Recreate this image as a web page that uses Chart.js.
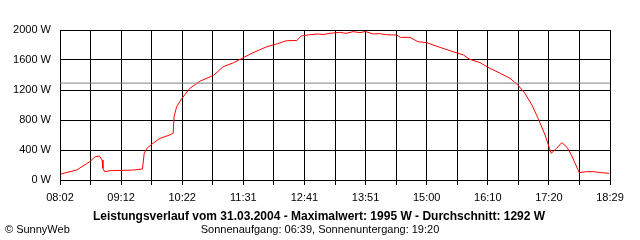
<!DOCTYPE html>
<html>
<head>
<meta charset="utf-8">
<script src="https://cdn.jsdelivr.net/npm/chart.js@4/dist/chart.umd.min.js"></script>
<style>
  body { margin: 0; background: #fff; }
  #wrap { width: 640px; height: 240px; }
</style>
</head>
<body>
<div id="wrap"><canvas id="powerChart" width="640" height="240"></canvas></div>
<script>
// Readings of the day (clock time, watts)
const times = ['08:03','08:21','08:36','08:42','08:47','08:50','08:51','08:53','08:59','09:26',
  '09:36','09:38','09:41','09:48','09:56','10:07','10:11','10:12','10:15','10:21',
  '10:30','10:42','10:57','11:08','11:20','11:31','11:42','11:58','12:09','12:20',
  '12:32','12:37','12:45','12:55','13:02','13:10','13:21','13:28','13:36','13:44',
  '13:50','13:59','14:06','14:14','14:26','14:30','14:41','14:50','15:00','15:15',
  '15:30','15:42','15:49','16:01','16:12','16:24','16:35','16:44','16:52','17:00',
  '17:07','17:15','17:20','17:22','17:28','17:34','17:40','17:45','17:54','18:02',
  '18:10','18:19','18:28'];
const watts = [80,133,244,311,318,267,156,111,124,133,
  147,356,422,489,556,600,622,844,978,1089,
  1222,1320,1395,1511,1564,1631,1697,1778,1813,1857,
  1860,1920,1935,1947,1940,1956,1969,1955,1978,1965,
  1980,1947,1952,1937,1933,1902,1902,1844,1831,1769,
  1711,1667,1609,1564,1489,1422,1356,1267,1156,1000,
  822,600,422,356,422,498,436,333,98,111,
  111,98,89];

const average = 1292;
const startTime = '08:02';
const endTime = '18:29';
const timeLabels = ['08:02','09:12','10:22','11:31','12:41','13:51','15:00','16:10','17:20','18:29'];
const yTicks = [0, 400, 800, 1200, 1600, 2000];

const titleText = 'Leistungsverlauf vom 31.03.2004 - Maximalwert: 1995 W - Durchschnitt: 1292 W';
const subText = 'Sonnenaufgang: 06:39, Sonnenuntergang: 19:20';
const copyText = '\u00a9 SunnyWeb';

function toMin(t) {
    let p = t.split(':');
    return parseInt(p[0]) * 60 + parseInt(p[1]);
}

let t0 = toMin(startTime);
let span = toMin(endTime) - t0;
let points = times.map((t, i) => ({ x: toMin(t) - t0, y: watts[i] }));

// text under the plot
const footerText = {
    id: 'footerText',
    afterDraw(chart) {
        const ctx = chart.ctx;
        ctx.save();
        ctx.fillStyle = '#000';
        ctx.textBaseline = 'middle';
        ctx.textAlign = 'center';
        ctx.font = 'bold 12px "Liberation Sans", Arial, sans-serif';
        ctx.fillText(titleText, 319, 217);
        ctx.font = '11px "Liberation Sans", Arial, sans-serif';
        ctx.fillText(subText, 320, 230);
        ctx.textAlign = 'left';
        ctx.fillText(copyText, 5, 230);
        ctx.restore();
    }
};

new Chart(document.getElementById('powerChart'), {
    type: 'line',
    data: {
        datasets: [
            {
                data: [{ x: 0, y: average }, { x: span, y: average }],
                borderColor: '#808080',
                borderWidth: 1,
                pointRadius: 0
            },
            {
                data: points,
                borderColor: '#ff0000',
                borderWidth: 1,
                pointRadius: 0,
                tension: 0
            }
        ]
    },
    options: {
        responsive: false,
        animation: false,
        layout: { padding: { top: 30, right: 30, left: 0, bottom: 0 } },
        plugins: { legend: { display: false }, tooltip: { enabled: false } },
        scales: {
            x: {
                type: 'linear',
                min: 0,
                max: span,
                afterFit(scale) { scale.height = 60; },
                afterBuildTicks(scale) {
                    let ticks = [];
                    for (let i = 0; i <= 18; i++) ticks.push({ value: span * i / 18 });
                    scale.ticks = ticks;
                },
                grid: { color: '#000', lineWidth: 1, tickLength: 5, drawTicks: true },
                border: { color: '#000' },
                ticks: {
                    autoSkip: false,
                    maxRotation: 0,
                    padding: 6,
                    color: '#000',
                    font: { family: '"Liberation Sans", Arial, sans-serif', size: 11 },
                    callback: (v, i) => (i % 2 === 0 ? timeLabels[i / 2] : '')
                }
            },
            y: {
                min: 0,
                max: 2000,
                afterFit(scale) { scale.width = 60; },
                afterBuildTicks(scale) {
                    scale.ticks = yTicks.map(v => ({ value: v }));
                },
                grid: { color: '#000', lineWidth: 1, drawTicks: false },
                border: { color: '#000' },
                ticks: {
                    padding: 9,
                    color: '#000',
                    font: { family: '"Liberation Sans", Arial, sans-serif', size: 11 },
                    callback: v => v + ' W'
                }
            }
        }
    },
    plugins: [footerText]
});
</script>
</body>
</html>
